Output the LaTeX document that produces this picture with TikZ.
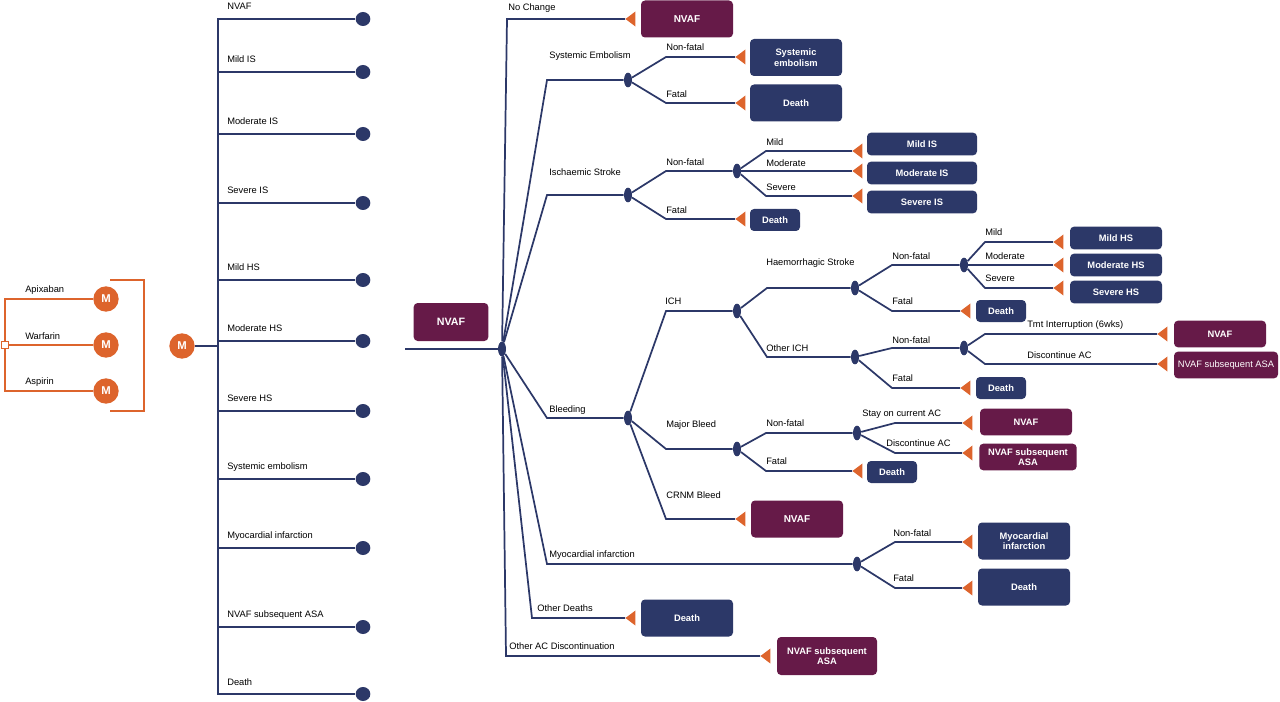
\documentclass[tikz,border=0pt]{standalone}
\usepackage{fontspec}
\setmainfont{Liberation Sans}
\usetikzlibrary{shapes.geometric}
\definecolor{navy}{HTML}{2C3868}
\definecolor{plum}{HTML}{661A48}
\definecolor{orng}{HTML}{DD642C}

\begin{document}
\begin{tikzpicture}[x=0.75pt,y=-0.75pt,
  line/.style={draw=navy,line width=1.3pt},
  oline/.style={draw=orng,line width=1.3pt},
  lbl/.style={anchor=west,inner sep=0pt,font=\fontsize{7}{8}\selectfont},
  chance/.style={ellipse,fill=navy,inner sep=0pt,minimum width=6pt,minimum height=11pt},
  endpt/.style={ellipse,fill=navy,inner sep=0pt,minimum width=11pt,minimum height=10.5pt},
  mnode/.style={circle,fill=orng,text=white,inner sep=0pt,minimum size=19pt,font=\bfseries\fontsize{8.5}{9}\selectfont},
  sq/.style={draw=orng,fill=white,line width=1pt,inner sep=0pt,minimum size=5.5pt},
  tri/.style={isosceles triangle,isosceles triangle apex angle=74,shape border rotate=180,fill=orng,inner sep=0pt,minimum height=7.5pt,anchor=apex},
  box/.style={rounded corners=3pt,text=white,align=center,inner sep=1pt,font=\bfseries\fontsize{7}{8}\selectfont},
  navybox/.style={box,fill=navy},
  plumbox/.style={box,fill=plum},
  bigbox/.style={minimum width=69pt,minimum height=27.75pt},
  widebox/.style={minimum width=82.5pt,minimum height=17pt},
  hsbox/.style={minimum width=69pt,minimum height=17pt},
  smallbox/.style={minimum width=37.5pt,minimum height=16.5pt},
  flatbox/.style={minimum width=69pt,minimum height=20pt}]

\useasboundingbox (0,0) rectangle (1280,702);

% treatment arms
\node[sq]    (dec) at (5,345)   {};
\node[mnode] (m1)  at (106,299) {M};
\node[mnode] (m2)  at (106,345) {M};
\node[mnode] (m3)  at (106,391) {M};
\node[lbl] (lapix) at (25,290) {Apixaban};
\node[lbl] (lwarf) at (25,336) {Warfarin};
\node[lbl] (laspi) at (25,382) {Aspirin};
\draw[oline] (dec.north) |- (m1);
\draw[oline] (dec) -- (m2);
\draw[oline] (dec.south) |- (m3);
\coordinate (bt)  at (110,280);
\coordinate (btr) at (144,280);
\coordinate (bbr) at (144,411);
\coordinate (bb)  at (110,411);
\draw[oline] (bt) -- (btr) -- (bbr) -- (bb);

% markov states
\node[mnode] (m0) at (182,346) {M};
\coordinate (sp)  at (218,346);
\coordinate (spt) at (218,19);
\coordinate (spb) at (218,694);
\node[endpt] (s1)  at (363,19)  {};
\node[endpt] (s2)  at (363,72)  {};
\node[endpt] (s3)  at (363,134) {};
\node[endpt] (s4)  at (363,203) {};
\node[endpt] (s5)  at (363,280) {};
\node[endpt] (s6)  at (363,341) {};
\node[endpt] (s7)  at (363,411) {};
\node[endpt] (s8)  at (363,479) {};
\node[endpt] (s9)  at (363,548) {};
\node[endpt] (s10) at (363,627) {};
\node[endpt] (s11) at (363,694) {};
\node[lbl] at (227,6)   {NVAF};
\node[lbl] at (227,59)  {Mild IS};
\node[lbl] at (227,121) {Moderate IS};
\node[lbl] at (227,190) {Severe IS};
\node[lbl] at (227,267) {Mild HS};
\node[lbl] at (227,328) {Moderate HS};
\node[lbl] at (227,398) {Severe HS};
\node[lbl] at (227,467) {Systemic embolism};
\node[lbl] at (227,536) {Myocardial infarction};
\node[lbl] at (227,615) {NVAF subsequent ASA};
\node[lbl] at (227,682) {Death};
\draw[line] (m0) -- (sp);
\draw[line] (s1) -- (spt) -- (spb) -- (s11);
\draw[line] (s2 -| sp) -- (s2);
\draw[line] (s3 -| sp) -- (s3);
\draw[line] (s4 -| sp) -- (s4);
\draw[line] (s5 -| sp) -- (s5);
\draw[line] (s6 -| sp) -- (s6);
\draw[line] (s7 -| sp) -- (s7);
\draw[line] (s8 -| sp) -- (s8);
\draw[line] (s9 -| sp) -- (s9);
\draw[line] (s10 -| sp) -- (s10);

% cycle tree
\node[plumbox,minimum width=56pt,minimum height=28.5pt,font=\bfseries\fontsize{8}{9}\selectfont] (start) at (451,322) {NVAF};
\coordinate (in) at (405,349);
\node[chance] (r) at (502,349) {};
\draw[line] (in) -- (r);

% no change
\coordinate (cNC) at (507,19);
\node[tri] (tNC) at (625,19) {};
\node[plumbox,bigbox,font=\bfseries\fontsize{7.5}{8}\selectfont] (bNC) at (687,19) {NVAF};
\node[lbl] at (508,8) {No Change};
\draw[line] (r) -- (cNC) -- (tNC.apex);

% systemic embolism
\coordinate (cSE) at (547,80);
\node[chance] (chSE) at (628,80) {};
\node[lbl] at (549,56) {Systemic Embolism};
\coordinate (cSEn) at (666,57);
\node[tri] (tSEn) at (735,57) {};
\node[navybox,bigbox] (bSEn) at (796,57.5) {Systemic\\embolism};
\node[lbl] at (666,47) {Non-fatal};
\coordinate (cSEf) at (666,103);
\node[tri] (tSEf) at (735,103) {};
\node[navybox,bigbox] (bSEf) at (796,103) {Death};
\node[lbl] at (666,94) {Fatal};
\draw[line] (r) -- (cSE) -- (chSE);
\draw[line] (chSE) -- (cSEn) -- (tSEn.apex);
\draw[line] (chSE) -- (cSEf) -- (tSEf.apex);

% ischaemic stroke
\coordinate (cIS) at (547,195);
\node[chance] (chIS) at (628,195) {};
\node[lbl] at (549,172) {Ischaemic Stroke};
\coordinate (cISn) at (666,171);
\node[chance] (chISn) at (737,171) {};
\node[lbl] at (666,162) {Non-fatal};
\coordinate (cISf) at (666,219);
\node[tri] (tISf) at (735,219) {};
\node[navybox,smallbox] (bISf) at (775,220) {Death};
\node[lbl] at (666,210) {Fatal};
\coordinate (cISm) at (766,151);
\node[tri] (tISm) at (852,151) {};
\node[navybox,widebox] (bISm) at (922,144) {Mild IS};
\node[lbl] at (766,142) {Mild};
\node[tri] (tISmo) at (852,171) {};
\node[navybox,widebox] (bISmo) at (922,173) {Moderate IS};
\node[lbl] at (766,163) {Moderate};
\coordinate (cISs) at (766,196);
\node[tri] (tISs) at (852,196) {};
\node[navybox,widebox] (bISs) at (922,202) {Severe IS};
\node[lbl] at (766,187) {Severe};
\draw[line] (r) -- (cIS) -- (chIS);
\draw[line] (chIS) -- (cISn) -- (chISn);
\draw[line] (chIS) -- (cISf) -- (tISf.apex);
\draw[line] (chISn) -- (cISm) -- (tISm.apex);
\draw[line] (chISn) -- (tISmo.apex);
\draw[line] (chISn) -- (cISs) -- (tISs.apex);

% bleeding
\coordinate (cB) at (547,418);
\node[chance] (chB) at (628,418) {};
\node[lbl] at (549,410) {Bleeding};
\coordinate (cICH) at (666,311);
\node[chance] (chICH) at (737,311) {};
\node[lbl] at (665,301) {ICH};
\draw[line] (r) -- (cB) -- (chB);
\draw[line] (chB) -- (cICH) -- (chICH);

% haemorrhagic stroke
\coordinate (cHS) at (767,288);
\node[chance] (chHS) at (855,288) {};
\node[lbl] at (766,263) {Haemorrhagic Stroke};
\coordinate (cHSn) at (892,265);
\node[chance] (chHSn) at (964,265) {};
\node[lbl] at (892,256) {Non-fatal};
\coordinate (cHSf) at (892,311);
\node[tri] (tHSf) at (960,311) {};
\node[navybox,smallbox] (bHSf) at (1001,311) {Death};
\node[lbl] at (892,301) {Fatal};
\coordinate (cHSm) at (985,242);
\node[tri] (tHSm) at (1053,242) {};
\node[navybox,hsbox] (bHSm) at (1116,238) {Mild HS};
\node[lbl] at (985,232) {Mild};
\node[tri] (tHSmo) at (1053,265) {};
\node[navybox,hsbox] (bHSmo) at (1116,265) {Moderate HS};
\node[lbl] at (985,256) {Moderate};
\coordinate (cHSs) at (985,288);
\node[tri] (tHSs) at (1053,288) {};
\node[navybox,hsbox] (bHSs) at (1116,292) {Severe HS};
\node[lbl] at (985,278) {Severe};
\draw[line] (chICH) -- (cHS) -- (chHS);
\draw[line] (chHS) -- (cHSn) -- (chHSn);
\draw[line] (chHS) -- (cHSf) -- (tHSf.apex);
\draw[line] (chHSn) -- (cHSm) -- (tHSm.apex);
\draw[line] (chHSn) -- (tHSmo.apex);
\draw[line] (chHSn) -- (cHSs) -- (tHSs.apex);

% other ICH
\coordinate (cOI) at (767,357);
\node[chance] (chOI) at (855,357) {};
\node[lbl] at (766,348) {Other ICH};
\coordinate (cOIn) at (892,348);
\node[chance] (chOIn) at (964,348) {};
\node[lbl] at (892,340) {Non-fatal};
\coordinate (cOIf) at (892,388);
\node[tri] (tOIf) at (960,388) {};
\node[navybox,smallbox] (bOIf) at (1001,388) {Death};
\node[lbl] at (892,378) {Fatal};
\coordinate (cOIt) at (985,334);
\node[tri] (tOIt) at (1157,334) {};
\node[plumbox,flatbox] (bOIt) at (1220,334) {NVAF};
\node[lbl] at (1027,325) {Tmt Interruption (6wks)};
\coordinate (cOId) at (985,364);
\node[tri] (tOId) at (1157,364) {};
\node[plumbox,minimum width=78pt,minimum height=20pt,font=\fontsize{7}{8}\selectfont] (bOId) at (1226,365) {NVAF subsequent ASA};
\node[lbl] at (1027,355) {Discontinue AC};
\draw[line] (chICH) -- (cOI) -- (chOI);
\draw[line] (chOI) -- (cOIn) -- (chOIn);
\draw[line] (chOI) -- (cOIf) -- (tOIf.apex);
\draw[line] (chOIn) -- (cOIt) -- (tOIt.apex);
\draw[line] (chOIn) -- (cOId) -- (tOId.apex);

% major bleed
\coordinate (cMB) at (666,449);
\node[chance] (chMB) at (737,449) {};
\node[lbl] at (666,425) {Major Bleed};
\coordinate (cMBn) at (766,433);
\node[chance] (chMBn) at (857,433) {};
\node[lbl] at (766,423) {Non-fatal};
\coordinate (cMBf) at (766,471);
\node[tri] (tMBf) at (852,471) {};
\node[navybox,smallbox] (bMBf) at (892,472) {Death};
\node[lbl] at (766,461) {Fatal};
\coordinate (cMBs) at (895,423);
\node[tri] (tMBs) at (962,423) {};
\node[plumbox,flatbox] (bMBs) at (1026,422) {NVAF};
\node[lbl] at (862,414) {Stay on current AC};
\coordinate (cMBd) at (895,453);
\node[tri] (tMBd) at (962,453) {};
\node[plumbox,minimum width=73pt,minimum height=20pt] (bMBd) at (1028,457) {NVAF subsequent\\ASA};
\node[lbl] at (886,443) {Discontinue AC};
\draw[line] (chB) -- (cMB) -- (chMB);
\draw[line] (chMB) -- (cMBn) -- (chMBn);
\draw[line] (chMB) -- (cMBf) -- (tMBf.apex);
\draw[line] (chMBn) -- (cMBs) -- (tMBs.apex);
\draw[line] (chMBn) -- (cMBd) -- (tMBd.apex);

% CRNM bleed
\coordinate (cCR) at (666,519);
\node[tri] (tCR) at (735,519) {};
\node[plumbox,bigbox,font=\bfseries\fontsize{7.5}{8}\selectfont] (bCR) at (797,519) {NVAF};
\node[lbl] at (666,495) {CRNM Bleed};
\draw[line] (chB) -- (cCR) -- (tCR.apex);

% myocardial infarction
\coordinate (cMI) at (547,564);
\node[chance] (chMI) at (857,564) {};
\node[lbl] at (549,555) {Myocardial infarction};
\coordinate (cMIn) at (895,542);
\node[tri] (tMIn) at (962,542) {};
\node[navybox,bigbox] (bMIn) at (1024,541) {Myocardial\\infarction};
\node[lbl] at (893,533) {Non-fatal};
\coordinate (cMIf) at (895,588);
\node[tri] (tMIf) at (962,588) {};
\node[navybox,bigbox] (bMIf) at (1024,587) {Death};
\node[lbl] at (893,578) {Fatal};
\draw[line] (r) -- (cMI) -- (chMI);
\draw[line] (chMI) -- (cMIn) -- (tMIn.apex);
\draw[line] (chMI) -- (cMIf) -- (tMIf.apex);

% other deaths, other discontinuation
\coordinate (cOD) at (532,618);
\node[tri] (tOD) at (625,618) {};
\node[navybox,bigbox] (bOD) at (687,618) {Death};
\node[lbl] at (537,608) {Other Deaths};
\coordinate (cOA) at (506,656);
\node[tri] (tOA) at (760,656) {};
\node[plumbox,minimum width=75pt,minimum height=28.5pt] (bOA) at (827,656) {NVAF subsequent\\ASA};
\node[lbl] at (509,646) {Other AC Discontinuation};
\draw[line] (r) -- (cOD) -- (tOD.apex);
\draw[line] (r) -- (cOA) -- (tOA.apex);

\end{tikzpicture}
\end{document}
